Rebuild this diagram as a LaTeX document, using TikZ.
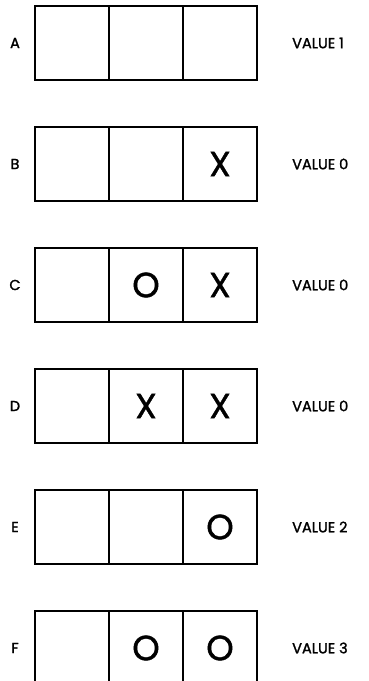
\documentclass[tikz,border=0pt]{standalone}
\usepackage{fontspec}
\setmainfont{Poppins}
\newfontfamily\labfont{Poppins}[FakeBold=1.6]
\newfontfamily\markfont{Poppins}[FakeBold=1.2]
\begin{document}
\begin{tikzpicture}[x=1pt,y=-1pt,
  cell/.style={draw,line width=1.8pt,minimum width=74pt,minimum height=74pt,inner sep=0pt,outer sep=0pt,font=\markfont\fontsize{35}{35}\selectfont},
  divider/.style={line width=2.8pt},
  rowlab/.style={font=\labfont\fontsize{14.5}{14.5}\selectfont,inner sep=0pt},
  vallab/.style={font=\labfont\fontsize{14.5}{14.5}\selectfont,inner sep=0pt,anchor=west}]
\useasboundingbox (0,0) rectangle (368,681);
\clip (0,0) rectangle (368,681);
% row A
\node[cell] (A1) at (72,43) {};
\node[cell] (A2) at (146,43) {};
\node[cell] (A3) at (220,43) {};
\node[rowlab] (lA) at (15,43) {A};
\node[vallab] (vA) at (292,43) {VALUE 1};
% row B
\node[cell] (B1) at (72,164) {};
\node[cell] (B2) at (146,164) {};
\node[cell] (B3) at (220,164) {X};
\node[rowlab] (lB) at (15,164) {B};
\node[vallab] (vB) at (292,164) {VALUE 0};
% row C
\node[cell] (C1) at (72,285) {};
\node[cell] (C2) at (146,285) {O};
\node[cell] (C3) at (220,285) {X};
\node[rowlab] (lC) at (15,285) {C};
\node[vallab] (vC) at (292,285) {VALUE 0};
% row D
\node[cell] (D1) at (72,406) {};
\node[cell] (D2) at (146,406) {X};
\node[cell] (D3) at (220,406) {X};
\node[rowlab] (lD) at (15,406) {D};
\node[vallab] (vD) at (292,406) {VALUE 0};
% row E
\node[cell] (E1) at (72,527) {};
\node[cell] (E2) at (146,527) {};
\node[cell] (E3) at (220,527) {O};
\node[rowlab] (lE) at (15,527) {E};
\node[vallab] (vE) at (292,527) {VALUE 2};
% row F
\node[cell] (F1) at (72,648) {};
\node[cell] (F2) at (146,648) {O};
\node[cell] (F3) at (220,648) {O};
\node[rowlab] (lF) at (15,648) {F};
\node[vallab] (vF) at (292,648) {VALUE 3};
% thicker dividers
\foreach \r in {A,B,C,D,E,F}{
  \draw[divider] (\r1.north east) -- (\r1.south east);
  \draw[divider] (\r2.north east) -- (\r2.south east);
}
\end{tikzpicture}
\end{document}
